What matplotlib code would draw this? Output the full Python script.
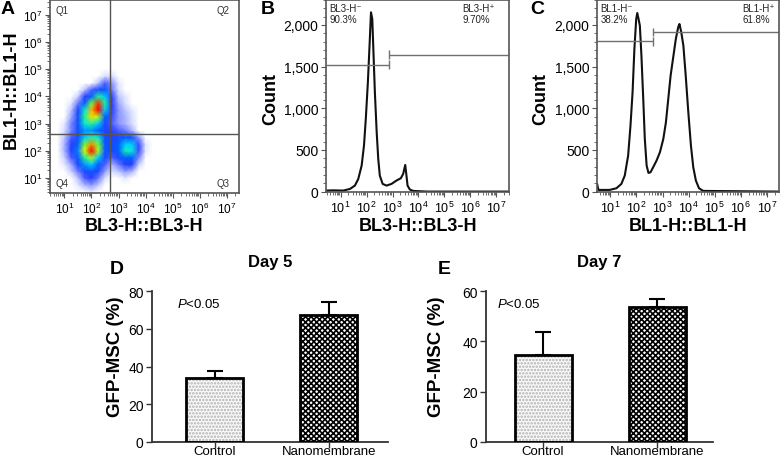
import numpy as np
import matplotlib
matplotlib.use('Agg')
import matplotlib.pyplot as plt
from matplotlib.colors import LinearSegmentedColormap
from matplotlib.ticker import MultipleLocator, FuncFormatter, LogLocator, FixedLocator

plt.rcParams['font.family'] = ['Liberation Sans', 'DejaVu Sans']
plt.rcParams['mathtext.fontset'] = 'custom'
plt.rcParams['mathtext.rm'] = 'Liberation Sans'
plt.rcParams['mathtext.it'] = 'Liberation Sans:italic'
plt.rcParams['mathtext.bf'] = 'Liberation Sans:bold'
plt.rcParams['hatch.linewidth'] = 1.2

# ---- panel A: event density on log10 grid (rows = BL1 from low to high)
dens_x = [0.5, 0.75, 1.0, 1.25, 1.5, 1.75, 2.0, 2.25, 2.5, 2.75, 3.0, 3.25, 3.5, 3.75, 4.0, 4.25, 4.5]
dens_y = [0.5, 0.75, 1.0, 1.25, 1.5, 1.75, 2.0, 2.25, 2.5, 2.75, 3.0, 3.25, 3.5, 3.75, 4.0, 4.25, 4.5, 4.75, 5.0]
dens = [
    [0, 0, 0, 0, 0, 0, 0.2, 0, 0, 0, 0, 0, 0, 0, 0, 0, 0],
    [0, 0, 0, 0, 0.2, 0.6, 0.8, 0.5, 0, 0, 0, 0, 0, 0, 0, 0, 0],
    [0, 0, 0, 0, 0.5, 1.2, 1.5, 1.0, 0.3, 0, 0, 0.2, 0, 0, 0, 0, 0],
    [0, 0, 0, 0.4, 1.0, 2.0, 2.5, 1.8, 0.8, 0.3, 0.5, 0.8, 0.6, 0, 0, 0, 0],
    [0, 0, 0.2, 0.7, 1.8, 3.5, 4.0, 2.8, 1.2, 0.6, 1.0, 1.5, 1.5, 0.4, 0, 0, 0],
    [0, 0, 0.4, 1.2, 2.6, 5.0, 6.5, 4.0, 2.0, 1.2, 2.0, 3.0, 3.0, 0.9, 0, 0, 0],
    [0, 0, 0.6, 1.6, 3.3, 7.0, 10, 6.5, 2.8, 1.8, 3.0, 4.8, 4.5, 1.3, 0.2, 0, 0],
    [0, 0, 0.6, 1.6, 3.0, 6.0, 8.5, 6.0, 2.8, 2.0, 3.0, 4.0, 4.0, 1.3, 0.2, 0, 0],
    [0, 0, 0.5, 1.2, 2.3, 4.0, 5.0, 4.5, 2.2, 1.6, 2.2, 2.5, 2.2, 0.8, 0, 0, 0],
    [0, 0, 0.3, 0.9, 2.0, 3.5, 3.5, 3.0, 1.8, 1.5, 1.2, 1.0, 0.6, 0, 0, 0, 0],
    [0, 0, 0.2, 0.9, 2.2, 4.5, 5.0, 4.0, 2.0, 1.2, 0.8, 0.6, 0.3, 0, 0, 0, 0],
    [0, 0, 0, 0.7, 2.2, 5.0, 7.5, 6.5, 3.0, 1.3, 0.8, 0.6, 0.3, 0, 0, 0, 0],
    [0, 0, 0, 0.5, 1.7, 4.5, 8.0, 10, 4.0, 1.5, 0.8, 0.5, 0.2, 0, 0, 0, 0],
    [0, 0, 0, 0.2, 1.0, 3.0, 6.0, 9.5, 5.0, 1.5, 0.7, 0.3, 0, 0, 0, 0, 0],
    [0, 0, 0, 0, 0.4, 1.5, 3.0, 5.0, 4.0, 1.5, 0.5, 0.2, 0, 0, 0, 0, 0],
    [0, 0, 0, 0, 0, 0.5, 1.2, 2.0, 2.5, 1.0, 0.3, 0, 0, 0, 0, 0, 0],
    [0, 0, 0, 0, 0, 0, 0, 0.5, 1.2, 0.8, 0.2, 0, 0, 0, 0, 0, 0],
    [0, 0, 0, 0, 0, 0, 0, 0, 0.3, 0.3, 0, 0, 0, 0, 0, 0, 0],
    [0, 0, 0, 0, 0, 0, 0, 0, 0, 0, 0, 0, 0, 0, 0, 0, 0],
]
quad_x = 10 ** 2.7
quad_y = 10 ** 2.62
decades = [10.0 ** k for k in range(1, 8)]

# ---- panel B: BL3-H histogram (log10 intensity, count)
b_log = [0.44, 0.72, 1.10, 1.36, 1.55, 1.68, 1.81, 1.90, 1.97, 2.05, 2.12, 2.17, 2.22, 2.27,
         2.32, 2.39, 2.45, 2.51, 2.62, 2.77, 2.96, 3.15, 3.32, 3.41, 3.49, 3.53, 3.58, 3.67,
         3.80, 4.31, 7.49]
b_count = [12, 15, 12, 32, 72, 152, 312, 552, 872, 1312, 1792, 2152, 2072, 1632,
           1192, 712, 392, 192, 92, 72, 92, 132, 160, 212, 320, 212, 72, 24,
           8, 0, 0]
b_gate = 10 ** 2.86
b_gate_y = [1525, 1645]
b_labels = ['BL3-H\u207b\n90.3%', 'BL3-H\u207a\n9.70%']

# ---- panel C: BL1-H histogram
c_log = [0.49, 0.54, 0.59, 0.97, 1.23, 1.42, 1.55, 1.68, 1.77, 1.85, 1.92, 1.99, 2.03, 2.08,
         2.13, 2.19, 2.26, 2.32, 2.39, 2.46, 2.54, 2.64, 2.77, 2.90, 3.03, 3.13, 3.22, 3.31,
         3.41, 3.51, 3.60, 3.65, 3.72, 3.80, 3.89, 3.99, 4.09, 4.18, 4.28, 4.40, 4.56, 7.49]
c_count = [90, 20, 20, 20, 40, 92, 192, 432, 792, 1192, 1712, 2072, 2144, 2072,
           1992, 1632, 1112, 632, 312, 224, 232, 292, 372, 472, 632, 832, 1112, 1392,
           1612, 1832, 1972, 2012, 1912, 1752, 1392, 952, 552, 292, 132, 40, 8, 0]
c_gate = 10 ** 2.64
c_gate_y = [1805, 1915]
c_labels = ['BL1-H\u207b\n38.2%', 'BL1-H\u207a\n61.8%']

# ---- panels D, E
groups = ['Control', 'Nanomembrane']
day5_mean = [34.0, 67.4]
day5_err = [3.7, 7.0]
day7_mean = [34.6, 53.5]
day7_err = [9.2, 3.3]

fig = plt.figure(figsize=(7.82, 4.6), dpi=100)
W, H = 782.0, 460.0


def axes_px(l, t, r, b):
    return fig.add_axes([l / W, 1 - b / H, (r - l) / W, (b - t) / H])


frame_c = '#555555'


def decade_label(v, p):
    return r'$\mathdefault{10^{%d}}$' % round(np.log10(v))


def flow_style(ax, tick_size):
    for s in ax.spines.values():
        s.set_color(frame_c)
        s.set_linewidth(1.2)
    ax.tick_params(which='major', direction='out', length=3.5, width=0.8, color=frame_c,
                   labelsize=tick_size, pad=2)
    ax.tick_params(which='minor', direction='out', length=2, width=0.6, color=frame_c)


def log_ticks(axis):
    axis.set_major_locator(FixedLocator(decades))
    axis.set_major_formatter(FuncFormatter(decade_label))
    axis.set_minor_locator(LogLocator(base=10, subs=np.arange(2, 10), numticks=12))


# ---------- A
axA = axes_px(50, 1, 239, 194)
cmap = LinearSegmentedColormap.from_list('flow', [
    (0.0, '#ffffff'), (0.04, '#c8d0ff'), (0.14, '#2a3cff'), (0.3, '#0060ff'),
    (0.42, '#00e0ff'), (0.55, '#30ff60'), (0.72, '#f0ff00'), (0.86, '#ff8000'), (1.0, '#ff0000')])
gx, gy = np.meshgrid(10 ** np.array(dens_x), 10 ** np.array(dens_y))
axA.set_xscale('log')
axA.set_yscale('log')
axA.pcolormesh(gx, gy, np.array(dens), cmap=cmap, vmin=0, vmax=10, shading='gouraud',
               rasterized=True)
axA.axvline(quad_x, color='#555555', lw=1.0)
axA.axhline(quad_y, color='#555555', lw=1.0)
axA.set_xlim(10 ** 0.47, 10 ** 7.45)
axA.set_ylim(10 ** 0.45, 10 ** 7.54)
log_ticks(axA.xaxis)
log_ticks(axA.yaxis)
flow_style(axA, 8.5)
qs = dict(fontsize=7, color='#333333', transform=axA.transAxes)
axA.text(0.03, 0.975, 'Q1', ha='left', va='top', **qs)
axA.text(0.95, 0.975, 'Q2', ha='right', va='top', **qs)
axA.text(0.03, 0.025, 'Q4', ha='left', va='bottom', **qs)
axA.text(0.95, 0.025, 'Q3', ha='right', va='bottom', **qs)
axA.set_xlabel('BL3-H::BL3-H', fontsize=13, fontweight='bold', va='center')
axA.xaxis.set_label_coords(0.5, -0.17)
axA.set_ylabel('BL1-H::BL1-H', fontsize=13, fontweight='bold', va='center')
axA.yaxis.set_label_coords(-0.206, 0.54)


# ---------- B, C
def hist_panel(ax, logs, counts, gate, gate_y, labels, xlab, xl):
    ax.set_xscale('log')
    ax.plot(10 ** np.array(logs), counts, color='#111111', lw=1.5)
    left, right = 10 ** xl[0], 10 ** xl[1]
    ax.hlines(gate_y[0], left, gate, color='#707070', lw=1.0)
    ax.vlines(gate, gate_y[0] - 55, gate_y[0] + 55, color='#707070', lw=1.0)
    ax.hlines(gate_y[1], gate, right, color='#707070', lw=1.0)
    ax.vlines(gate, gate_y[1] - 50, gate_y[1] + 50, color='#707070', lw=1.0)
    ax.set_xlim(left, right)
    ax.set_ylim(-5, 2300)
    log_ticks(ax.xaxis)
    ax.yaxis.set_major_locator(MultipleLocator(500))
    ax.yaxis.set_minor_locator(MultipleLocator(100))
    ax.yaxis.set_major_formatter(FuncFormatter(lambda v, p: f'{int(v):,}'))
    flow_style(ax, 10)
    ax.tick_params(axis='x', which='major', labelsize=9)
    ax.text(0.02, 0.985, labels[0], transform=ax.transAxes, ha='left', va='top',
            fontsize=7, color='#222222', linespacing=1.1)
    ax.set_xlabel(xlab, fontsize=13, fontweight='bold', va='center')
    ax.xaxis.set_label_coords(0.5, -0.175)
    ax.set_ylabel('Count', fontsize=13, fontweight='bold', va='center')


axB = axes_px(326, 1, 509, 193)
hist_panel(axB, b_log, b_count, b_gate, b_gate_y, b_labels, 'BL3-H::BL3-H', (0.436, 7.49))
axB.text(0.747, 0.985, b_labels[1], transform=axB.transAxes, ha='left', va='top',
         fontsize=7, color='#222222', linespacing=1.1)
axB.yaxis.set_label_coords(-0.30, 0.49)

axC = axes_px(597, 1, 779, 193)
hist_panel(axC, c_log, c_count, c_gate, c_gate_y, c_labels, 'BL1-H::BL1-H', (0.485, 7.47))
axC.text(0.80, 0.985, c_labels[1], transform=axC.transAxes, ha='left', va='top',
         fontsize=7, color='#222222', linespacing=1.1)
axC.yaxis.set_label_coords(-0.308, 0.49)


# ---------- D, E
def bar_panel(ax, means, errs, ymax, title, lab_x, p_x):
    xs = np.arange(len(groups))
    ax.bar(xs[0], means[0], 0.5, color='#fafafa', hatch='.....', edgecolor='#b0b0b0', linewidth=0)
    ax.bar(xs[1], means[1], 0.5, color='white', hatch='xxxxxx', edgecolor='black', linewidth=0)
    ax.bar(xs, means, 0.5, fill=False, edgecolor='black', linewidth=2, zorder=3)
    ax.errorbar(xs, means, yerr=[[0] * len(errs), errs], fmt='none', ecolor='black',
                elinewidth=1.5, capsize=6, capthick=1.5, zorder=2)
    ax.set_ylim(0, ymax)
    ax.yaxis.set_major_locator(MultipleLocator(20))
    ax.set_xticks(xs)
    ax.set_xticklabels(groups)
    for s in ('top', 'right'):
        ax.spines[s].set_visible(False)
    for s in ('left', 'bottom'):
        ax.spines[s].set_color('#333333')
        ax.spines[s].set_linewidth(1.3)
    ax.tick_params(axis='y', labelsize=10, length=4, width=1, color='#333333', pad=2)
    ax.tick_params(axis='x', labelsize=9.5, length=4, width=1, color='#333333', pad=-1.5)
    ax.set_title(title, fontsize=12, fontweight='bold', y=1.14, va='center')
    ax.set_ylabel('GFP-MSC (%)', fontsize=13.5, fontweight='bold', va='center')
    ax.yaxis.set_label_coords(lab_x, 0.57)
    ax.text(p_x, 0.915, '$P$<0.05', transform=ax.transAxes, ha='left', va='center', fontsize=9.5)


axD = axes_px(152, 292, 388, 443)
bar_panel(axD, day5_mean, day5_err, 80, 'Day 5', -0.155, 0.106)
axD.set_xlim(-0.55, 1.52)

axE = axes_px(486, 292, 713, 443)
bar_panel(axE, day7_mean, day7_err, 60, 'Day 7', -0.216, 0.048)
axE.set_xlim(-0.5, 1.49)

# panel letters
for letter, px, py in [('A', 8, 9), ('B', 268, 9), ('C', 537, 9), ('D', 117, 270), ('E', 444, 270)]:
    fig.text(px / W, 1 - py / H, letter, fontsize=14, fontweight='bold', ha='center', va='center')

fig.savefig('out.png', dpi=100)
